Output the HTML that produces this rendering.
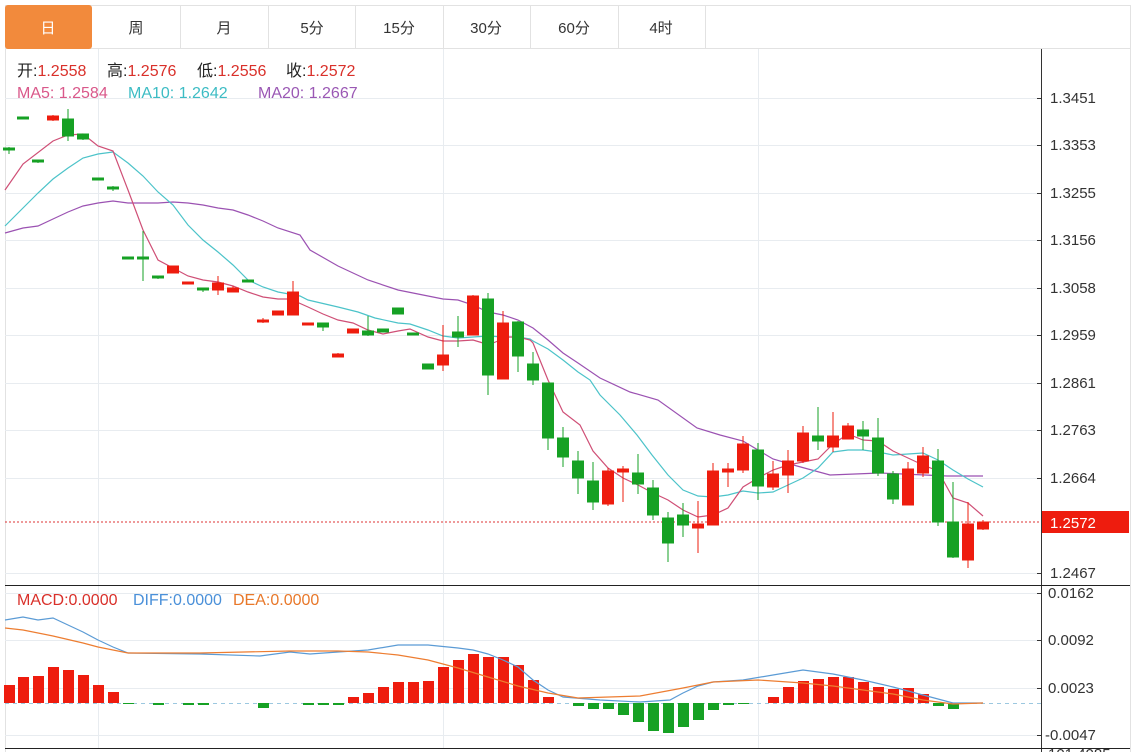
<!DOCTYPE html>
<html><head><meta charset="utf-8"><style>
html,body{margin:0;padding:0;background:#fff;width:1139px;height:752px;overflow:hidden}
svg{display:block}
text{font-family:"Liberation Sans","Noto Sans CJK SC",sans-serif}
</style></head><body>
<svg width="1139" height="752" viewBox="0 0 1139 752" xmlns="http://www.w3.org/2000/svg">
<rect x="5.5" y="5.5" width="1125" height="43" fill="#fff" stroke="#e2e2e2"/>
<rect x="5" y="5" width="87" height="44" rx="3" fill="#f28a3c"/>
<g stroke="#e2e2e2"><line x1="180.5" y1="5" x2="180.5" y2="48"/><line x1="268.5" y1="5" x2="268.5" y2="48"/><line x1="355.5" y1="5" x2="355.5" y2="48"/><line x1="443.5" y1="5" x2="443.5" y2="48"/><line x1="530.5" y1="5" x2="530.5" y2="48"/><line x1="618.5" y1="5" x2="618.5" y2="48"/><line x1="705.5" y1="5" x2="705.5" y2="48"/></g>
<g font-size="15" text-anchor="middle" fill="#333">
<text x="48" y="33" fill="#fff">日</text><text x="136" y="33">周</text><text x="224" y="33">月</text><text x="312" y="33">5分</text><text x="399" y="33">15分</text><text x="486" y="33">30分</text><text x="574" y="33">60分</text><text x="661" y="33">4时</text>
</g>
<line x1="5.5" y1="48" x2="5.5" y2="752" stroke="#e2e2e2"/>
<line x1="1130.5" y1="48" x2="1130.5" y2="752" stroke="#e2e2e2"/>
<g stroke="#e8ecf0" stroke-width="1">
<line x1="5" y1="98.5" x2="1041" y2="98.5"/><line x1="5" y1="145.5" x2="1041" y2="145.5"/><line x1="5" y1="193.5" x2="1041" y2="193.5"/><line x1="5" y1="240.5" x2="1041" y2="240.5"/><line x1="5" y1="288.5" x2="1041" y2="288.5"/><line x1="5" y1="335.5" x2="1041" y2="335.5"/><line x1="5" y1="383.5" x2="1041" y2="383.5"/><line x1="5" y1="430.5" x2="1041" y2="430.5"/><line x1="5" y1="478.5" x2="1041" y2="478.5"/><line x1="5" y1="573.5" x2="1041" y2="573.5"/>
<line x1="5" y1="593.5" x2="1041" y2="593.5"/><line x1="5" y1="640.5" x2="1041" y2="640.5"/><line x1="5" y1="688.5" x2="1041" y2="688.5"/><line x1="5" y1="735.5" x2="1041" y2="735.5"/>
<line x1="98.5" y1="49" x2="98.5" y2="748"/><line x1="443.5" y1="49" x2="443.5" y2="748"/><line x1="758.5" y1="49" x2="758.5" y2="748"/>
</g>
<line x1="1041.5" y1="49" x2="1041.5" y2="752" stroke="#333"/>
<line x1="5" y1="585.5" x2="1130" y2="585.5" stroke="#222"/>
<line x1="5" y1="748.5" x2="1130" y2="748.5" stroke="#222"/>
<g stroke="#333"><line x1="1037" y1="98.5" x2="1041" y2="98.5"/><line x1="1037" y1="145.5" x2="1041" y2="145.5"/><line x1="1037" y1="193.5" x2="1041" y2="193.5"/><line x1="1037" y1="240.5" x2="1041" y2="240.5"/><line x1="1037" y1="288.5" x2="1041" y2="288.5"/><line x1="1037" y1="335.5" x2="1041" y2="335.5"/><line x1="1037" y1="383.5" x2="1041" y2="383.5"/><line x1="1037" y1="430.5" x2="1041" y2="430.5"/><line x1="1037" y1="478.5" x2="1041" y2="478.5"/><line x1="1037" y1="573.5" x2="1041" y2="573.5"/><line x1="1037" y1="593.5" x2="1041" y2="593.5"/><line x1="1037" y1="640.5" x2="1041" y2="640.5"/><line x1="1037" y1="688.5" x2="1041" y2="688.5"/><line x1="1037" y1="735.5" x2="1041" y2="735.5"/></g>
<g font-size="15" fill="#333">
<text x="1050" y="103">1.3451</text><text x="1050" y="150">1.3353</text><text x="1050" y="198">1.3255</text><text x="1050" y="245">1.3156</text><text x="1050" y="293">1.3058</text><text x="1050" y="340">1.2959</text><text x="1050" y="388">1.2861</text><text x="1050" y="435">1.2763</text><text x="1050" y="483">1.2664</text><text x="1050" y="578">1.2467</text>
<text x="1048" y="598">0.0162</text><text x="1048" y="645">0.0092</text><text x="1048" y="693">0.0023</text><text x="1045" y="740">-0.0047</text>
<text x="1048" y="759">101.4085</text>
</g>
<line x1="5" y1="522" x2="1041" y2="522" stroke="#d33" stroke-dasharray="2,2"/>
<rect x="1042" y="511" width="87" height="22" fill="#ee1c0e"/>
<text x="1050" y="528" font-size="15" fill="#fff">1.2572</text>
<g font-size="16">
<text x="17" y="76" fill="#222">开:<tspan fill="#d9302a">1.2558</tspan></text>
<text x="107" y="76" fill="#222">高:<tspan fill="#d9302a">1.2576</tspan></text>
<text x="197" y="76" fill="#222">低:<tspan fill="#d9302a">1.2556</tspan></text>
<text x="286" y="76" fill="#222">收:<tspan fill="#d9302a">1.2572</tspan></text>
<text x="17" y="98" fill="#d9588a">MA5: 1.2584</text>
<text x="128" y="98" fill="#3dbcc4">MA10: 1.2642</text>
<text x="258" y="98" fill="#9a58b4">MA20: 1.2667</text>
<text x="17" y="605" fill="#d9302a">MACD:0.0000</text>
<text x="133" y="605" fill="#4a90d9">DIFF:0.0000</text>
<text x="233" y="605" fill="#e8782a">DEA:0.0000</text>
</g>
<polyline fill="none" stroke="#9b52b2" stroke-width="1.2" points="5,233 23,228 38,226 53,219 68,212 83,206 98,203 113,201 128,203 143,203 158,203 173,202 188,203 203,205 218,208 233,210 248,215 263,221 278,228 300,235 310,250 338,266 368,280 398,290 428,296 443,299 458,300 473,305 488,312 503,315 518,320 533,328 548,340 563,353 578,363 600,378 630,392 658,400 697,428 720,435 743,441 773,459 797,466 830,475 880,473 947,476 983,476"/>
<polyline fill="none" stroke="#4cc3c9" stroke-width="1.2" points="5,226 23,208 38,193 53,179 68,168 83,158 98,154 113,152 128,163 143,176 158,192 173,205 188,225 203,240 218,252 233,265 248,280 263,287 278,292 300,296 308,300 338,307 358,312 375,318 398,323 410,324 428,330 443,336 458,338 473,337 488,336 503,337 518,337 530,339 533,341 548,349 563,360 578,372 590,380 600,395 620,415 637,435 652,455 668,475 683,490 698,496 713,497 728,495 743,491 758,493 773,492 788,485 803,478 818,468 833,452 848,450 863,450 878,452 893,455 908,454 923,453 938,460 953,470 968,479 983,487"/>
<polyline fill="none" stroke="#cf4f76" stroke-width="1.2" points="5,190 23,164 53,141 68,135 83,134 98,146 113,151 128,190 143,230 158,260 173,268 188,276 203,280 218,282 233,286 248,292 263,297 278,299 290,299 308,307 323,314 338,320 353,323 368,330 383,334 398,331 410,329 428,337 443,341 458,341 473,340 483,343 488,345 498,341 508,337 518,337 530,340 533,343 548,380 563,412 580,425 593,451 608,468 623,478 638,485 653,493 668,500 683,510 698,517 713,515 728,508 743,487 758,478 773,470 788,465 803,462 818,459 833,444 848,434 863,440 878,441 893,451 908,458 923,465 938,471 953,498 968,503 983,516"/>
<g stroke="#16a124" fill="#16a124">
<line x1="9" y1="147" x2="9" y2="154"/><rect x="3.5" y="148" width="11" height="2"/>
<line x1="23" y1="117" x2="23" y2="119"/><rect x="17.5" y="117" width="11" height="2"/>
<line x1="38" y1="160" x2="38" y2="163"/><rect x="32.5" y="160" width="11" height="2"/>
<line x1="68" y1="109" x2="68" y2="141"/><rect x="62.5" y="119" width="11" height="17"/>
<line x1="83" y1="134" x2="83" y2="140"/><rect x="77.5" y="134" width="11" height="5"/>
<line x1="98" y1="178" x2="98" y2="180"/><rect x="92.5" y="178" width="11" height="2"/>
<line x1="113" y1="186" x2="113" y2="191"/><rect x="107.5" y="187" width="11" height="2"/>
<line x1="128" y1="257" x2="128" y2="259"/><rect x="122.5" y="257" width="11" height="2"/>
<line x1="143" y1="231" x2="143" y2="281"/><rect x="137.5" y="257" width="11" height="2"/>
<line x1="158" y1="276" x2="158" y2="279"/><rect x="152.5" y="276" width="11" height="2"/>
<line x1="203" y1="288" x2="203" y2="292"/><rect x="197.5" y="288" width="11" height="2"/>
<line x1="248" y1="280" x2="248" y2="282"/><rect x="242.5" y="280" width="11" height="2"/>
<line x1="323" y1="323" x2="323" y2="331"/><rect x="317.5" y="323" width="11" height="4"/>
<line x1="368" y1="316" x2="368" y2="336"/><rect x="362.5" y="331" width="11" height="4"/>
<line x1="383" y1="329" x2="383" y2="332"/><rect x="377.5" y="329" width="11" height="3"/>
<line x1="398" y1="308" x2="398" y2="314"/><rect x="392.5" y="308" width="11" height="6"/>
<line x1="413" y1="333" x2="413" y2="335"/><rect x="407.5" y="333" width="11" height="2"/>
<line x1="428" y1="364" x2="428" y2="369"/><rect x="422.5" y="364" width="11" height="5"/>
<line x1="458" y1="316" x2="458" y2="347"/><rect x="452.5" y="332" width="11" height="5"/>
<line x1="488" y1="293" x2="488" y2="395"/><rect x="482.5" y="299" width="11" height="76"/>
<line x1="518" y1="321" x2="518" y2="372"/><rect x="512.5" y="322" width="11" height="34"/>
<line x1="533" y1="352" x2="533" y2="385"/><rect x="527.5" y="364" width="11" height="16"/>
<line x1="548" y1="383" x2="548" y2="450"/><rect x="542.5" y="383" width="11" height="55"/>
<line x1="563" y1="427" x2="563" y2="467"/><rect x="557.5" y="438" width="11" height="19"/>
<line x1="578" y1="451" x2="578" y2="494"/><rect x="572.5" y="461" width="11" height="17"/>
<line x1="593" y1="462" x2="593" y2="510"/><rect x="587.5" y="481" width="11" height="21"/>
<line x1="638" y1="454" x2="638" y2="494"/><rect x="632.5" y="473" width="11" height="11"/>
<line x1="653" y1="480" x2="653" y2="520"/><rect x="647.5" y="488" width="11" height="27"/>
<line x1="668" y1="512" x2="668" y2="562"/><rect x="662.5" y="518" width="11" height="25"/>
<line x1="683" y1="503" x2="683" y2="537"/><rect x="677.5" y="515" width="11" height="10"/>
<line x1="758" y1="443" x2="758" y2="500"/><rect x="752.5" y="450" width="11" height="36"/>
<line x1="818" y1="407" x2="818" y2="450"/><rect x="812.5" y="436" width="11" height="5"/>
<line x1="863" y1="421" x2="863" y2="450"/><rect x="857.5" y="430" width="11" height="6"/>
<line x1="878" y1="418" x2="878" y2="476"/><rect x="872.5" y="438" width="11" height="35"/>
<line x1="893" y1="471" x2="893" y2="504"/><rect x="887.5" y="474" width="11" height="25"/>
<line x1="938" y1="449" x2="938" y2="526"/><rect x="932.5" y="461" width="11" height="61"/>
<line x1="953" y1="482" x2="953" y2="558"/><rect x="947.5" y="522" width="11" height="35"/>
</g>
<g stroke="#ee1c0e" fill="#ee1c0e">
<line x1="53" y1="115" x2="53" y2="121"/><rect x="47.5" y="116" width="11" height="4"/>
<line x1="173" y1="266" x2="173" y2="273"/><rect x="167.5" y="266" width="11" height="7"/>
<line x1="188" y1="282" x2="188" y2="284"/><rect x="182.5" y="282" width="11" height="2"/>
<line x1="218" y1="276" x2="218" y2="295"/><rect x="212.5" y="283" width="11" height="7"/>
<line x1="233" y1="286" x2="233" y2="292"/><rect x="227.5" y="288" width="11" height="4"/>
<line x1="263" y1="318" x2="263" y2="323"/><rect x="257.5" y="320" width="11" height="2"/>
<line x1="278" y1="311" x2="278" y2="315"/><rect x="272.5" y="311" width="11" height="4"/>
<line x1="293" y1="281" x2="293" y2="315"/><rect x="287.5" y="292" width="11" height="23"/>
<line x1="308" y1="323" x2="308" y2="325"/><rect x="302.5" y="323" width="11" height="2"/>
<line x1="338" y1="353" x2="338" y2="357"/><rect x="332.5" y="354" width="11" height="3"/>
<line x1="353" y1="329" x2="353" y2="333"/><rect x="347.5" y="329" width="11" height="4"/>
<line x1="443" y1="325" x2="443" y2="371"/><rect x="437.5" y="355" width="11" height="10"/>
<line x1="473" y1="295" x2="473" y2="335"/><rect x="467.5" y="296" width="11" height="39"/>
<line x1="503" y1="311" x2="503" y2="379"/><rect x="497.5" y="323" width="11" height="56"/>
<line x1="608" y1="468" x2="608" y2="506"/><rect x="602.5" y="471" width="11" height="33"/>
<line x1="623" y1="466" x2="623" y2="502"/><rect x="617.5" y="469" width="11" height="3"/>
<line x1="698" y1="501" x2="698" y2="553"/><rect x="692.5" y="524" width="11" height="4"/>
<line x1="713" y1="463" x2="713" y2="525"/><rect x="707.5" y="471" width="11" height="54"/>
<line x1="728" y1="463" x2="728" y2="487"/><rect x="722.5" y="469" width="11" height="3"/>
<line x1="743" y1="436" x2="743" y2="473"/><rect x="737.5" y="444" width="11" height="26"/>
<line x1="773" y1="461" x2="773" y2="490"/><rect x="767.5" y="474" width="11" height="13"/>
<line x1="788" y1="450" x2="788" y2="493"/><rect x="782.5" y="461" width="11" height="14"/>
<line x1="803" y1="426" x2="803" y2="463"/><rect x="797.5" y="433" width="11" height="28"/>
<line x1="833" y1="412" x2="833" y2="452"/><rect x="827.5" y="436" width="11" height="11"/>
<line x1="848" y1="423" x2="848" y2="439"/><rect x="842.5" y="426" width="11" height="13"/>
<line x1="908" y1="462" x2="908" y2="505"/><rect x="902.5" y="469" width="11" height="36"/>
<line x1="923" y1="447" x2="923" y2="477"/><rect x="917.5" y="456" width="11" height="17"/>
<line x1="968" y1="502" x2="968" y2="568"/><rect x="962.5" y="524" width="11" height="36"/>
<line x1="983" y1="520" x2="983" y2="530"/><rect x="977.5" y="522" width="11" height="7"/>
</g>
<line x1="5" y1="703.5" x2="1041" y2="703.5" stroke="#9cc8e0" stroke-dasharray="4,4"/>
<g fill="#ee1c0e">
<rect x="4" y="685" width="11" height="18"/><rect x="18" y="677" width="11" height="26"/><rect x="33" y="676" width="11" height="27"/><rect x="48" y="667" width="11" height="36"/><rect x="63" y="670" width="11" height="33"/><rect x="78" y="675" width="11" height="28"/><rect x="93" y="685" width="11" height="18"/><rect x="108" y="692" width="11" height="11"/>
<rect x="348" y="697" width="11" height="6"/><rect x="363" y="693" width="11" height="10"/><rect x="378" y="687" width="11" height="16"/><rect x="393" y="682" width="11" height="21"/><rect x="408" y="682" width="11" height="21"/><rect x="423" y="681" width="11" height="22"/><rect x="438" y="667" width="11" height="36"/><rect x="453" y="660" width="11" height="43"/><rect x="468" y="654" width="11" height="49"/><rect x="483" y="657" width="11" height="46"/><rect x="498" y="657" width="11" height="46"/><rect x="513" y="665" width="11" height="38"/><rect x="528" y="680" width="11" height="23"/><rect x="543" y="697" width="11" height="6"/>
<rect x="768" y="697" width="11" height="6"/><rect x="783" y="687" width="11" height="16"/><rect x="798" y="681" width="11" height="22"/><rect x="813" y="679" width="11" height="24"/><rect x="828" y="677" width="11" height="26"/><rect x="843" y="677" width="11" height="26"/><rect x="858" y="682" width="11" height="21"/><rect x="873" y="687" width="11" height="16"/><rect x="888" y="689" width="11" height="14"/><rect x="903" y="688" width="11" height="15"/><rect x="918" y="694" width="11" height="9"/>
</g>
<g fill="#16a124">
<rect x="123" y="703" width="11" height="1"/><rect x="153" y="703" width="11" height="2"/><rect x="183" y="703" width="11" height="2"/><rect x="198" y="703" width="11" height="2"/><rect x="258" y="703" width="11" height="5"/><rect x="303" y="703" width="11" height="2"/><rect x="318" y="703" width="11" height="2"/><rect x="333" y="703" width="11" height="2"/>
<rect x="573" y="703" width="11" height="3"/><rect x="588" y="703" width="11" height="6"/><rect x="603" y="703" width="11" height="6"/><rect x="618" y="703" width="11" height="12"/><rect x="633" y="703" width="11" height="19"/><rect x="648" y="703" width="11" height="28"/><rect x="663" y="703" width="11" height="30"/><rect x="678" y="703" width="11" height="24"/><rect x="693" y="703" width="11" height="17"/><rect x="708" y="703" width="11" height="7"/><rect x="723" y="703" width="11" height="2"/><rect x="738" y="703" width="11" height="1"/>
<rect x="933" y="703" width="11" height="3"/><rect x="948" y="703" width="11" height="6"/>
</g>
<polyline fill="none" stroke="#5b9bd5" stroke-width="1.2" points="5,620 23,617 38,620 53,618 68,625 83,632 98,640 113,647 128,653 200,654 260,656 290,652 310,654 338,652 368,650 398,645 428,645 458,648 473,650 488,654 503,660 518,667 533,680 548,690 563,697 600,700 640,702 670,700 683,693 698,686 713,682 743,680 773,675 803,670 833,674 863,680 893,687 923,695 953,703 983,703"/>
<polyline fill="none" stroke="#ed7d31" stroke-width="1.2" points="5,628 23,630 53,636 83,643 98,647 128,653 200,653 290,651 338,651 368,652 398,655 428,660 458,668 488,677 518,686 548,693 578,698 640,696 683,688 713,682 758,680 803,683 833,686 863,690 893,694 923,700 953,704 983,703"/>
</svg>
</body></html>
